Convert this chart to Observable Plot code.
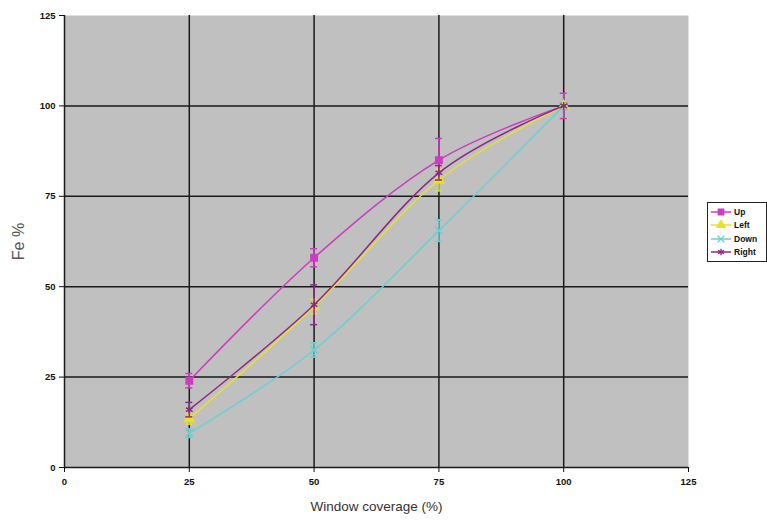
<!DOCTYPE html>
<html>
<head>
<meta charset="utf-8">
<script src="https://cdn.jsdelivr.net/npm/d3@7"></script>
<script src="https://cdn.jsdelivr.net/npm/@observablehq/plot@0.6"></script>
<style>
  body { margin: 0; background: #fff; font-family: "Liberation Sans", Arial, sans-serif; }
  #wrap { position: relative; width: 767px; height: 520px; }
  #legend { position: absolute; left: 707px; top: 202px; width: 58px; border: 1px solid #222; background: #fff; padding: 2px 0; }
  .row { display: flex; align-items: center; height: 13.5px; font-size: 8.5px; font-weight: bold; color: #111; }
  .row svg { margin: 0 3px 0 3px; }
</style>
</head>
<body>
<div id="wrap"><div id="legend"></div></div>
<script>
const coverage = [25, 50, 75, 100];
const seriesNames = ["Up", "Left", "Down", "Right"];
const upValues = [24, 58, 85, 100];
const upErrors = [2, 2.5, 6, 3.5];
const leftValues = [13.5, 44.5, 79.5, 100];
const leftErrors = [1.5, 2, 3, 0];
const downValues = [9.5, 32.5, 65.5, 100];
const downErrors = [1.2, 2, 3, 0];
const rightValues = [16, 45, 81.5, 100];
const rightErrors = [2, 5.5, 2, 0];
const xTicks = [0, 25, 50, 75, 100, 125];
const yTicks = [0, 25, 50, 75, 100, 125];
const gridTicks = [25, 50, 75, 100];

const colors = {Up: "#cc3cc0", Left: "#e6e22a", Down: "#6ccfd0", Right: "#8a2a88"};
const symbols = {Up: "square", Left: "triangle", Down: "times", Right: "asterisk"};

const valuesBySeries = {Up: upValues, Left: leftValues, Down: downValues, Right: rightValues};
const errorsBySeries = {Up: upErrors, Left: leftErrors, Down: downErrors, Right: rightErrors};

const data = seriesNames.flatMap(s => coverage.map((c, i) => ({
  series: s, x: c, y: valuesBySeries[s][i], lo: valuesBySeries[s][i] - errorsBySeries[s][i], hi: valuesBySeries[s][i] + errorsBySeries[s][i]
})));
const errData = data.filter(d => d.hi > d.lo);

const marks = [
  Plot.frame({fill: "#c0c0c0", stroke: null}),
  Plot.ruleX(gridTicks, {stroke: "#1a1a1a", strokeWidth: 1.5}),
  Plot.ruleY(gridTicks, {stroke: "#1a1a1a", strokeWidth: 1.5}),
  Plot.ruleX([0], {stroke: "#1a1a1a", strokeWidth: 1.5}),
  Plot.ruleY([0], {stroke: "#1a1a1a", strokeWidth: 1.5}),
  Plot.axisX({ticks: xTicks, tickSize: 5, tickPadding: 6, fontSize: 9.5, fontWeight: "bold", label: null, anchor: "bottom"}),
  Plot.axisY({ticks: yTicks, tickSize: 5, tickPadding: 4, fontSize: 9.5, fontWeight: "bold", label: null, anchor: "left"}),
];
for (const s of seriesNames) {
  const d = data.filter(r => r.series === s);
  const e = errData.filter(r => r.series === s);
  marks.push(
    Plot.line(d, {x: "x", y: "y", stroke: colors[s], strokeWidth: 1.5, curve: "cardinal", tension: 0}),
    Plot.ruleX(e, {x: "x", y1: "lo", y2: "hi", stroke: colors[s], strokeWidth: 1.5}),
    Plot.ruleY(e, {y: "lo", x1: "x", x2: "x", insetLeft: -3.5, insetRight: -3.5, stroke: colors[s], strokeWidth: 1.5}),
    Plot.ruleY(e, {y: "hi", x1: "x", x2: "x", insetLeft: -3.5, insetRight: -3.5, stroke: colors[s], strokeWidth: 1.5}),
    Plot.dot(d, {x: "x", y: "y", symbol: () => symbols[s], r: 3.6, fill: (s === "Up" || s === "Left") ? colors[s] : "none", stroke: colors[s], strokeWidth: 1.5})
  );
}
marks.push(
  Plot.text(["Window coverage (%)"], {frameAnchor: "bottom", dy: 43, fontSize: 13.5, fill: "#333"}),
  Plot.text(["Fe %"], {frameAnchor: "left", dx: -46, rotate: -90, textAnchor: "middle", fontSize: 16, fill: "#555"})
);

const chart = Plot.plot({
  width: 767,
  height: 520,
  marginLeft: 64,
  marginRight: 79,
  marginTop: 15,
  marginBottom: 53,
  style: {fontFamily: "'Liberation Sans', Arial, sans-serif", background: "#fff", color: "#111"},
  x: {domain: [0, 125]},
  y: {domain: [0, 125]},
  symbol: {type: "identity"},
  marks
});
document.getElementById("wrap").prepend(chart);

const legend = document.getElementById("legend");
for (const s of seriesNames) {
  const row = document.createElement("div");
  row.className = "row";
  const ns = "http://www.w3.org/2000/svg";
  const svg = document.createElementNS(ns, "svg");
  svg.setAttribute("width", 20); svg.setAttribute("height", 10);
  const line = document.createElementNS(ns, "line");
  line.setAttribute("x1", 0); line.setAttribute("x2", 20); line.setAttribute("y1", 5); line.setAttribute("y2", 5);
  line.setAttribute("stroke", colors[s]); line.setAttribute("stroke-width", 1.5);
  svg.appendChild(line);
  const sym = document.createElementNS(ns, "path");
  const symType = {square: d3.symbolSquare, triangle: d3.symbolTriangle, times: d3.symbolTimes, asterisk: d3.symbolAsterisk}[symbols[s]];
  sym.setAttribute("d", d3.symbol(symType, 30)());
  sym.setAttribute("transform", "translate(10,5)");
  const filled = s === "Up" || s === "Left";
  sym.setAttribute("fill", filled ? colors[s] : "none");
  sym.setAttribute("stroke", colors[s]); sym.setAttribute("stroke-width", 1.3);
  svg.appendChild(sym);
  row.appendChild(svg);
  const t = document.createElement("span");
  t.textContent = s;
  row.appendChild(t);
  legend.appendChild(row);
}
</script>
</body>
</html>
